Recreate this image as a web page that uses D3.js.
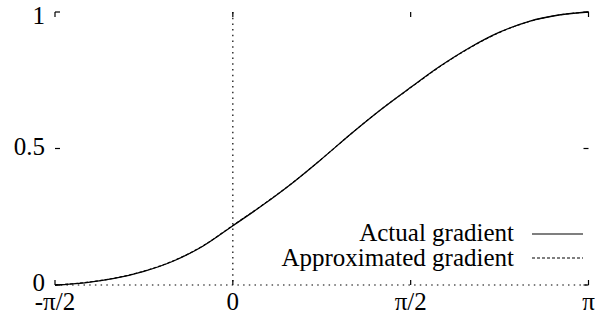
<!DOCTYPE html>
<html>
<head>
<meta charset="utf-8">
<script src="https://cdn.jsdelivr.net/npm/d3@7"></script>
<style>
  html, body { margin: 0; padding: 0; background: #fff; }
  #chart text { font-family: "Liberation Serif", "Times New Roman", Times, "DejaVu Serif", serif !important; }
</style>
</head>
<body>
<svg id="chart" width="595" height="320"></svg>
<script>
// Sample positions, in multiples of pi/12, from -pi/2 to pi
const sampleSteps = [-6, -5, -4, -3, -2, -1, 0, 1, 2, 3, 4, 5, 6, 7, 8, 9, 10, 11, 12];
const actualGradient = [0, 0.008, 0.024, 0.050, 0.088, 0.143, 0.217, 0.292, 0.373, 0.462, 0.555, 0.643, 0.724, 0.802, 0.870, 0.926, 0.966, 0.989, 1.0];
const approxGradient = [0, 0.009, 0.025, 0.051, 0.089, 0.144, 0.218, 0.293, 0.373, 0.462, 0.555, 0.643, 0.723, 0.801, 0.869, 0.925, 0.965, 0.989, 1.0];
const xTickValues = [-Math.PI / 2, 0, Math.PI / 2, Math.PI];
const xTickLabels = ["-π/2", "0", "π/2", "π"];
const yTickValues = [0, 0.5, 1];
const yTickLabels = ["0", "0.5", "1"];
const seriesNames = ["Actual gradient", "Approximated gradient"];

const svg = d3.select("#chart");
const plotLeft = 55, plotRight = 588.5, plotTop = 12, plotBottom = 285;
const fontSize = 25;

const x = d3.scaleLinear().domain([-Math.PI / 2, Math.PI]).range([plotLeft, plotRight]);
const y = d3.scaleLinear().domain([0, 1]).range([plotBottom, plotTop]);

const xs = sampleSteps.map(k => k * Math.PI / 12);

// Dotted zero axes
svg.append("line")
  .attr("x1", x(0)).attr("x2", x(0)).attr("y1", y(1)).attr("y2", y(0))
  .attr("stroke", "#000").attr("stroke-width", 1.2).attr("stroke-dasharray", "1.5,4.2");
svg.append("line")
  .attr("x1", x(-Math.PI / 2)).attr("x2", x(Math.PI)).attr("y1", y(0)).attr("y2", y(0))
  .attr("stroke", "#000").attr("stroke-width", 1.2).attr("stroke-dasharray", "1.5,4.2");

// Tick marks on all four sides (no border)
const tickLen = 5;
const ticks = svg.append("g").attr("stroke", "#000").attr("stroke-width", 1.2);
yTickValues.forEach(v => {
  ticks.append("line").attr("x1", plotLeft).attr("x2", plotLeft + tickLen).attr("y1", y(v)).attr("y2", y(v));
  ticks.append("line").attr("x1", plotRight - tickLen).attr("x2", plotRight).attr("y1", y(v)).attr("y2", y(v));
});
xTickValues.forEach(v => {
  ticks.append("line").attr("x1", x(v)).attr("x2", x(v)).attr("y1", plotBottom).attr("y2", plotBottom - tickLen);
  ticks.append("line").attr("x1", x(v)).attr("x2", x(v)).attr("y1", plotTop).attr("y2", plotTop + tickLen);
});

// Tick labels
svg.append("g").selectAll("text").data(yTickValues).join("text")
  .attr("x", plotLeft - 10)
  .attr("y", v => Math.max(y(v) + 6, 24))
  .attr("text-anchor", "end")
  .attr("font-size", fontSize)
  .attr("fill", "#000")
  .text((v, i) => yTickLabels[i]);

svg.append("g").selectAll("text").data(xTickValues).join("text")
  .attr("x", v => x(v))
  .attr("y", 310)
  .attr("text-anchor", "middle")
  .attr("font-size", fontSize)
  .attr("fill", "#000")
  .text((v, i) => xTickLabels[i]);

// Curves
const line = d3.line()
  .x((d, i) => x(xs[i]))
  .y(d => y(d))
  .curve(d3.curveMonotoneX);

svg.append("path").datum(actualGradient)
  .attr("d", line).attr("fill", "none")
  .attr("stroke", "#000").attr("stroke-width", 1.3);
svg.append("path").datum(approxGradient)
  .attr("d", line).attr("fill", "none")
  .attr("stroke", "#000").attr("stroke-width", 1.1).attr("stroke-dasharray", "3,2");

// Legend
const legend = svg.append("g");
const legendRows = [
  { name: seriesNames[0], dash: null, baseline: 241, lineY: 234 },
  { name: seriesNames[1], dash: "3,2", baseline: 266, lineY: 258 }
];
legendRows.forEach(r => {
  legend.append("text")
    .attr("x", 514).attr("y", r.baseline)
    .attr("text-anchor", "end")
    .attr("font-size", fontSize)
    .attr("fill", "#000")
    .text(r.name);
  legend.append("line")
    .attr("x1", 532).attr("x2", 583).attr("y1", r.lineY).attr("y2", r.lineY)
    .attr("stroke", "#000").attr("stroke-width", 1.1)
    .attr("stroke-dasharray", r.dash);
});
</script>
</body>
</html>
